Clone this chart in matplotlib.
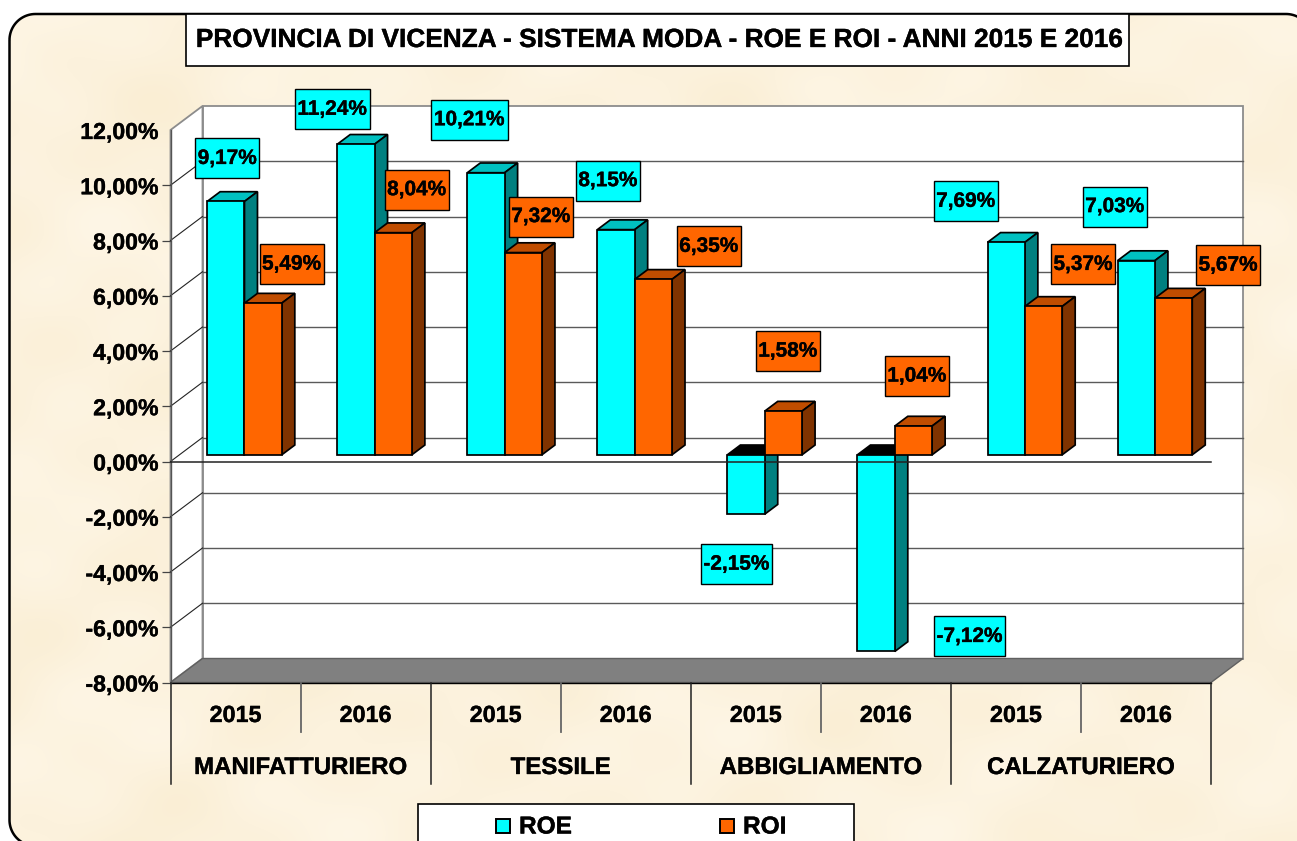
import numpy as np
import matplotlib
matplotlib.use('Agg')
import matplotlib.pyplot as plt
import matplotlib.patheffects as pe
from matplotlib.patches import Polygon, Rectangle
from matplotlib.text import Text
from matplotlib.transforms import IdentityTransform

plt.rcParams['font.family'] = ['Liberation Sans', 'DejaVu Sans']
plt.rcParams['font.weight'] = 'bold'

W, H = 1297, 841

title = 'PROVINCIA DI VICENZA - SISTEMA MODA - ROE E ROI - ANNI 2015 E 2016'
years = ['2015', '2016'] * 4
sectors = ['MANIFATTURIERO', 'TESSILE', 'ABBIGLIAMENTO', 'CALZATURIERO']
roe = [9.17, 11.24, 10.21, 8.15, -2.15, -7.12, 7.69, 7.03]
roi = [5.49, 8.04, 7.32, 6.35, 1.58, 1.04, 5.37, 5.67]
yticks = [-8, -6, -4, -2, 0, 2, 4, 6, 8, 10, 12]

# label box shift from the top of each bar, in pixels
roe_shift = [(1.5, 43), (-23.5, 35), (-16.5, 53), (-8, 49), (-9.5, -50), (93.5, 15), (-40.5, 41), (-21.5, 54)]
roi_shift = [(28.5, 39), (23.5, 43), (17.5, 36), (55.5, 33), (4.5, 60), (3.5, 50), (39.5, 42), (54.5, 33)]

fig = plt.figure(figsize=(W / 100, H / 100), dpi=100, facecolor='white')

# background layer in pixel coords
bg = fig.add_axes([0, 0, 1, 1], zorder=0)
bg.set_xlim(0, W)
bg.set_ylim(H, 0)
bg.axis('off')

xx, yy = np.meshgrid(np.arange(W), np.arange(H))
mott = (np.sin(xx / 47 + 1.3 * np.sin(yy / 61)) + np.sin(yy / 38 + 1.7 * np.sin(xx / 83))
        + 0.6 * np.sin((xx + yy) / 23) + 0.5 * np.sin((xx - 2 * yy) / 31)) / 3.1
tex = np.zeros((H, W, 3))
tex[..., 0] = (252 + 2 * mott) / 255
tex[..., 1] = (242 + 4 * mott) / 255
tex[..., 2] = (221 + 9 * mott) / 255
img = bg.imshow(np.clip(tex, 0, 1), extent=(0, W, H, 0), aspect='auto', zorder=1)


def rounded_outline(left, top, right, bottom, r):
    # plain polyline, agg mangles bezier corners that run off the canvas
    a = np.linspace(0, np.pi / 2, 24)
    pts = [(left + r - r * np.cos(t), top + r - r * np.sin(t)) for t in a]
    pts += [(right - r + r * np.sin(t), top + r - r * np.cos(t)) for t in a]
    pts += [(right - r + r * np.cos(t), bottom - r + r * np.sin(t)) for t in a]
    pts += [(left + r - r * np.sin(t), bottom - r + r * np.cos(t)) for t in a]
    return pts


frame = Polygon(rounded_outline(9.5, 14, 1312, 846, 26), closed=True, fc='none', ec='black', lw=1.8, zorder=2)
bg.add_patch(frame)
img.set_clip_path(frame)
bg.set_xlim(0, W)
bg.set_ylim(H, 0)

bg.add_patch(Rectangle((186, 14), 943, 52, fc='white', ec='black', lw=1.2, zorder=3))
bg.text(659, 40, title, ha='center', va='center', fontsize=18.9, fontweight='bold', zorder=4)

# legend
bg.add_patch(Rectangle((418, 804), 436, 60, fc='white', ec='black', lw=1.2, zorder=3))
bg.add_patch(Rectangle((495.5, 819), 14.5, 14, fc='#00FFFF', ec='black', lw=1.4, zorder=4))
bg.add_patch(Rectangle((719.5, 819), 14.5, 14, fc='#FF6600', ec='black', lw=1.4, zorder=4))
bg.text(519, 827, 'ROE', ha='left', va='center', fontsize=17.6, zorder=4)
bg.text(743, 827, 'ROI', ha='left', va='center', fontsize=17.6, zorder=4)

# chart, front plane of the 3D box
x0, x1 = 170.5, 1211
ytop, ybot = 130, 682.5
ax = fig.add_axes([x0 / W, 1 - ybot / H, (x1 - x0) / W, (ybot - ytop) / H], zorder=1)
ax.patch.set_visible(False)
ax.set_xlim(0, 8)
ax.set_ylim(-8, 12)
for s in ax.spines.values():
    s.set_visible(False)

DX = 32 / ((x1 - x0) / 8)
DY = 24 / ((ybot - ytop) / 20)


def pt(x, y, d=0.0):
    return (x + d * DX, y + d * DY)


def poly(points, fc, ec='black', lw=1.25, z=2):
    ax.add_patch(Polygon(points, closed=True, fc=fc, ec=ec, lw=lw, joinstyle='miter', zorder=z, clip_on=False))


GRID = '#5a5a5a'
WALL = '#8c8c8c'

# walls and floor
poly([pt(0, -8, 1), pt(8, -8, 1), pt(8, 12, 1), pt(0, 12, 1)], 'white', ec=WALL, lw=1.3, z=1)
poly([pt(0, -8), pt(0, -8, 1), pt(0, 12, 1), pt(0, 12)], 'white', ec=WALL, lw=1.3, z=1)
poly([pt(0, -8), pt(8, -8), pt(8, -8, 1), pt(0, -8, 1)], '#808080', ec='#606060', lw=1, z=1.2)
ax.plot(*zip(pt(0, -8), pt(8, -8)), color='black', lw=1, clip_on=False, zorder=1.3)
ax.plot(*zip(pt(0, -8), pt(0, 12)), color='#555555', lw=1, clip_on=False, zorder=1.3)

for v in yticks[1:-1]:
    ax.plot(*zip(pt(0, v, 1), pt(8, v, 1)), color=GRID, lw=1, clip_on=False, zorder=1.1)
    ax.plot(*zip(pt(0, v), pt(0, v, 1)), color='#222222', lw=0.8, clip_on=False, zorder=1.1)

# bars
BW = 0.287
D0, D1 = 0.28, 0.686


def bar(left, v, front, top, side):
    r = left + BW
    if v >= 0:
        poly([pt(left, v, D0), pt(left, v, D1), pt(r, v, D1), pt(r, v, D0)], top)
        poly([pt(r, 0, D0), pt(r, 0, D1), pt(r, v, D1), pt(r, v, D0)], side)
    else:
        poly([pt(left, 0, D0), pt(left, 0, D1), pt(r, 0, D1), pt(r, 0, D0)], 'black')
        poly([pt(r, 0, D0), pt(r, 0, D1), pt(r, v, D1), pt(r, v, D0)], side)
    poly([pt(left, 0, D0), pt(r, 0, D0), pt(r, v, D0), pt(left, v, D0)], front)


for i in range(8):
    bar(i + 0.5 - BW, roe[i], '#00FFFF', '#00C0C0', '#008080')
    bar(i + 0.5, roi[i], '#FF6600', '#C04D00', '#803300')

# front zero line passes over the bars below zero
ax.plot([0, 8], [0, 0], color='#222222', lw=1.1, clip_on=False, zorder=3)

# axis
ax.set_yticks(yticks)
ax.set_yticklabels([f'{v:.2f}%'.replace('.', ',') for v in yticks], fontsize=16.6, fontweight='bold')
ax.tick_params(axis='y', length=6.5, width=0.9, color='#444444', pad=2.2)
ax.yaxis.get_major_ticks()[-1].tick1line.set_visible(False)
ax.set_xticks([])

# two level category axis
PX = (ybot - ytop) / 20
for i in range(9):
    long_one = i % 2 == 0
    drop = 101 if long_one else 49
    ax.plot([i, i], [-8, -8 - drop / PX], color='#222222' if long_one else '#666666',
            lw=1.1 if long_one else 1.3, clip_on=False, zorder=2)
for i, y in enumerate(years):
    ax.text(i + 0.5, -8 - 33 / PX, y, ha='center', va='center', fontsize=16.8, fontweight='bold', clip_on=False)
for i, s in enumerate(sectors):
    ax.text(2 * i + 1, -8 - 85 / PX, s, ha='center', va='center', fontsize=17.3, fontweight='bold', clip_on=False)

# value labels
rend = fig.canvas.get_renderer()
px = IdentityTransform()


def value_label(x, v, shift, fc):
    cx, cy = ax.transData.transform(pt(x, v, D0))
    cx += shift[0]
    cy += shift[1]
    t = ax.text(cx, cy, f'{v:.2f}%'.replace('.', ','), transform=px, ha='center', va='center',
                fontsize=15, fontweight='bold', zorder=6, clip_on=False)
    w = t.get_window_extent(rend).width + 5
    ax.add_patch(Rectangle((cx - w / 2, cy - 20), w, 40, transform=px, fc=fc, ec='black', lw=1, zorder=5, clip_on=False))


for i in range(8):
    value_label(i + 0.5 - BW / 2, roe[i], roe_shift[i], '#00FFFF')
    value_label(i + 0.5 + BW / 2, roi[i], roi_shift[i], '#FF6600')

# reference text is a bit heavier than plain bold
for t in fig.findobj(Text):
    t.set_path_effects([pe.withStroke(linewidth=0.25, foreground='black')])

fig.savefig('out.png', dpi=100)
